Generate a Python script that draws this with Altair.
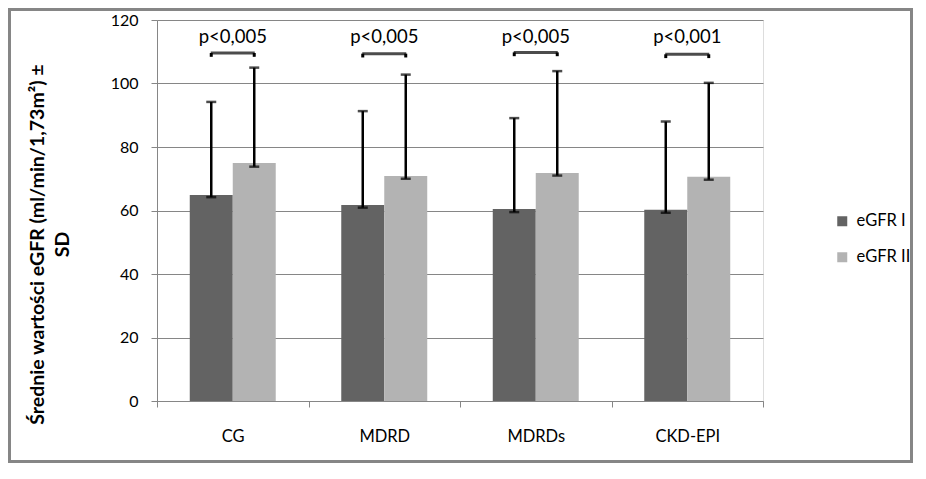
import altair as alt
import pandas as pd

categories = ["CG", "MDRD", "MDRDs", "CKD-EPI"]
series = ["eGFR I", "eGFR II"]
mean_I = [64.9, 61.7, 60.5, 60.2]
mean_II = [75.0, 70.9, 71.8, 70.6]
err_low_I = [64.2, 60.9, 59.5, 59.3]
err_low_II = [73.8, 70.0, 71.0, 69.7]
err_high_I = [94.2, 91.3, 89.1, 88.0]
err_high_II = [105.0, 102.8, 103.9, 100.2]
p_labels = ["p<0,005", "p<0,005", "p<0,005", "p<0,001"]
bracket_y = [109.6, 109.4, 109.8, 109.2]
bracket_drop = 1.2
p_text_y = 112.8

rows = []
for i, c in enumerate(categories):
    rows.append(dict(cat=c, series=series[0], mean=mean_I[i], lo=err_low_I[i], hi=err_high_I[i],
                     by=bracket_y[i], by2=bracket_y[i] - bracket_drop))
    rows.append(dict(cat=c, series=series[1], mean=mean_II[i], lo=err_low_II[i], hi=err_high_II[i],
                     by=bracket_y[i], by2=bracket_y[i] - bracket_drop))
df = pd.DataFrame(rows)
pdf = pd.DataFrame(dict(cat=categories, label=p_labels, by=bracket_y, ty=[p_text_y] * 4))

FONT = "Lato"
GRID = "#868686"
W, H = 606, 381
PAD = {"left": 149, "top": 12, "right": 150, "bottom": 62}

x = alt.X("cat:N", sort=categories, scale=alt.Scale(paddingInner=0, paddingOuter=0),
          axis=alt.Axis(title=None, labelAngle=0, tickBand="extent", ticks=True, tickSize=6,
                        labelPadding=21, domainColor=GRID, tickColor=GRID, labelFontSize=16.5,
                        labelColor="#000000", grid=False, labelFont=FONT))
xo = alt.XOffset("series:N", sort=series, scale=alt.Scale(paddingInner=0, paddingOuter=0.762))
yscale = alt.Scale(domain=[0, 120])

base = alt.Chart(df)

bars = base.mark_bar().encode(
    x=x,
    xOffset=xo,
    y=alt.Y("mean:Q", scale=yscale,
            axis=alt.Axis(values=[0, 20, 40, 60, 80, 100, 120], tickSize=6, labelPadding=13,
                          domainColor=GRID, tickColor=GRID, gridColor=GRID, grid=True,
                          labelFontSize=16, labelColor="#000000", labelFont=FONT,
                          title=["Średnie wartości eGFR  (ml/min/1,73m²) ±", "SD"],
                          titleAngle=270, titleX=-120, titleY=224, titleAlign="center",
                          titleBaseline="middle", titleFontWeight="bold", titleFontSize=19.5,
                          titleLineHeight=25, titleFont=FONT, titleColor="#000000")),
    color=alt.Color("series:N", sort=series,
                    scale=alt.Scale(domain=series, range=["#636363", "#b3b3b3"]),
                    legend=alt.Legend(title=None, orient="none", legendX=677, legendY=193,
                                      symbolType="square", symbolSize=100, symbolStrokeWidth=0,
                                      labelFontSize=16.5, labelFont=FONT, rowPadding=19,
                                      labelOffset=6, padding=0, labelColor="#000000")),
)

err = base.mark_rule(color="black", strokeWidth=2.5).encode(
    x=x, xOffset=xo, y=alt.Y("lo:Q", scale=yscale), y2="hi:Q")
cap_lo = base.mark_tick(color="black", thickness=2.5, size=10).encode(
    x=x, xOffset=xo, y=alt.Y("lo:Q", scale=yscale))
cap_hi = base.mark_tick(color="black", thickness=2.5, size=10).encode(
    x=x, xOffset=xo, y=alt.Y("hi:Q", scale=yscale))

br_ends = base.mark_rule(color="black", strokeWidth=3).encode(
    x=x, xOffset=xo, y=alt.Y("by:Q", scale=yscale), y2="by2:Q")
br_top = alt.Chart(pdf).mark_tick(color="black", thickness=3, size=44).encode(
    x=x, y=alt.Y("by:Q", scale=yscale))
ptext = alt.Chart(pdf).mark_text(fontSize=18.5, font=FONT, baseline="alphabetic", color="#000000").encode(
    x=x, y=alt.Y("ty:Q", scale=yscale), text="label:N")

frame = alt.Chart(pd.DataFrame({"a": [0]})).mark_rect(filled=False, stroke="#868686", strokeWidth=3).encode(
    x=alt.value(-PAD["left"] + 1.5), x2=alt.value(W + PAD["right"] - 1.5),
    y=alt.value(-PAD["top"] + 1.5), y2=alt.value(H + PAD["bottom"] - 1.5))

chart = alt.layer(bars, err, cap_lo, cap_hi, br_ends, br_top, ptext, frame).properties(
    width=W, height=H, padding=PAD,
    autosize=alt.AutoSizeParams(type="none"),
    background="white",
).configure_view(stroke=None).configure(font=FONT)

chart.save("out.html", embed_options={"renderer": "svg", "actions": False})
